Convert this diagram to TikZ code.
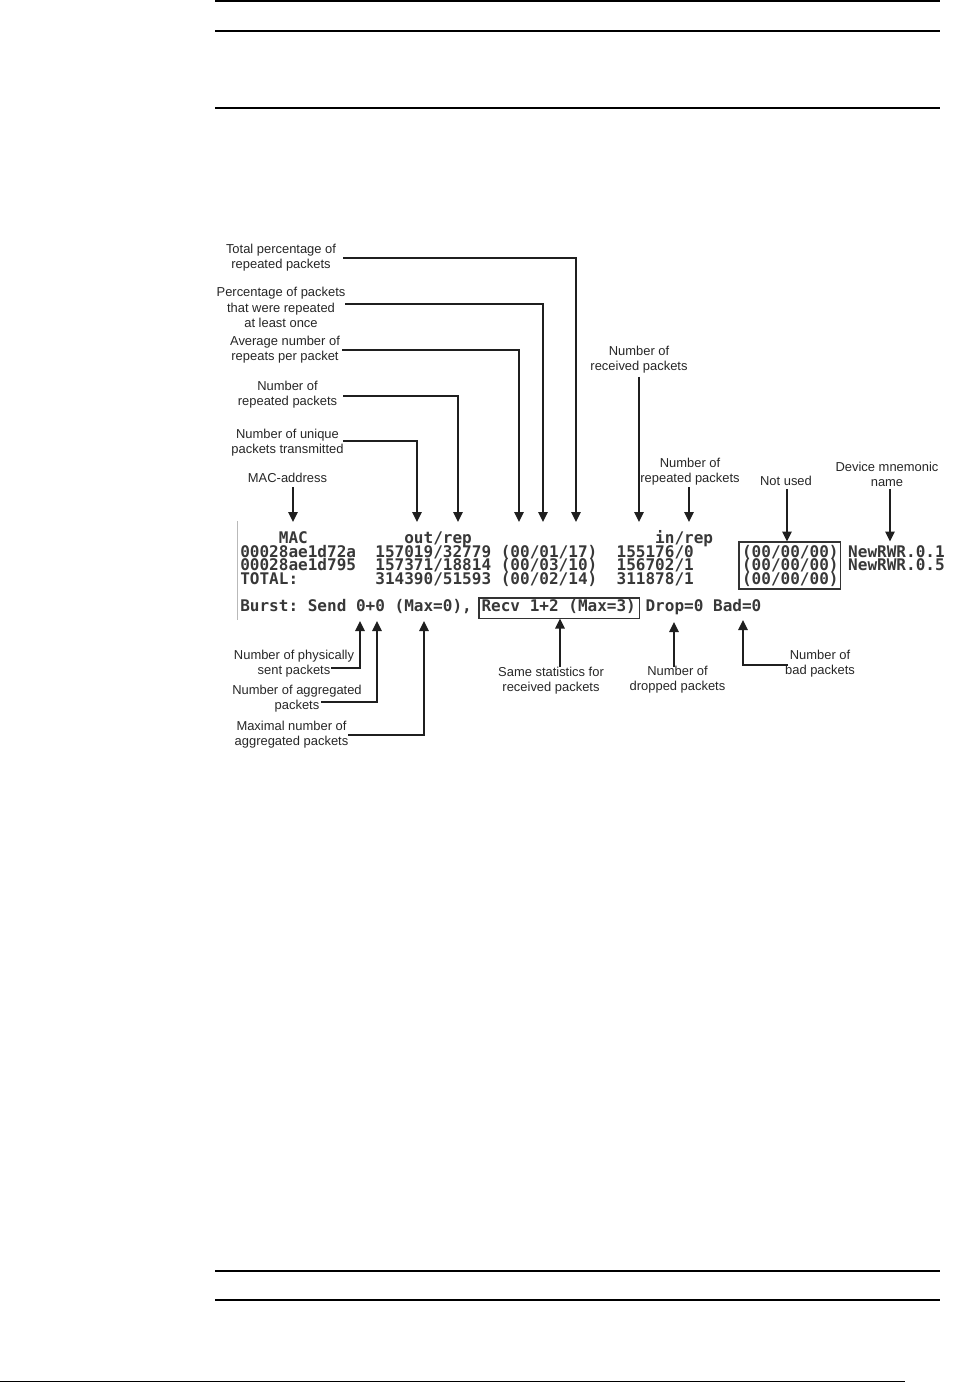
\documentclass[tikz,border=0pt]{standalone}
\usepackage{fontspec}
\setmainfont{Liberation Sans}
\newfontfamily\consolefont{DejaVu Sans Mono}
\usetikzlibrary{arrows.meta}
\tikzset{
  lbl/.style={align=center, inner sep=0pt, text=black!85,
    font=\fontsize{9.7pt}{11.4pt}\selectfont},
  con/.style={inner sep=0pt, anchor=base west, text=black!78,
    text height=8.8pt, text depth=0.9pt,
    font=\consolefont\bfseries\fontsize{12.02pt}{14pt}\selectfont\frenchspacing},
  conn/.style={draw=black!88, line width=1pt,
    -{Triangle[length=7.5pt,width=7.2pt]}},
  frame/.style={draw=black!80, line width=1pt},
  pageline/.style={draw=black, line width=0.8pt},
}
\newcommand\cx[1]{{240+9.65*#1}}
\begin{document}
\begin{tikzpicture}[x=0.75pt,y=-0.75pt]
\useasboundingbox (0,0) rectangle (976,1383);
% page rules
\draw[pageline] (215,1) -- (940,1);
\draw[pageline, line width=2pt] (215,31) -- (940,31);
\draw[pageline, line width=1pt] (215,108) -- (940,108);
\draw[pageline] (215,1271) -- (940,1271);
\draw[pageline, line width=2pt] (215,1300) -- (940,1300);
\draw[pageline] (0,1381.5) -- (905,1381.5);

% console left edge
\draw[gray!55, line width=0.75pt] (237.5,521) -- (237.5,620);

% console text
\node[con] (hmac) at (\cx{4},543) {MAC};
\node[con] (hout) at (\cx{17},543) {out/rep};
\node[con] (hin)  at (\cx{43},543) {in/rep};

\node[con] (r1a) at (\cx{0},557) {00028ae1d72a};
\node[con] (r1b) at (\cx{14},557) {157019/32779};
\node[con] (r1c) at (\cx{27},557) {(00/01/17)};
\node[con] (r1d) at (\cx{39},557) {155176/0};
\node[con] (r1e) at (\cx{52},557) {(00/00/00)};
\node[con] (r1f) at (\cx{63},557) {NewRWR.0.1};

\node[con] (r2a) at (\cx{0},570.5) {00028ae1d795};
\node[con] (r2b) at (\cx{14},570.5) {157371/18814};
\node[con] (r2c) at (\cx{27},570.5) {(00/03/10)};
\node[con] (r2d) at (\cx{39},570.5) {156702/1};
\node[con] (r2e) at (\cx{52},570.5) {(00/00/00)};
\node[con] (r2f) at (\cx{63},570.5) {NewRWR.0.5};

\node[con] (r3a) at (\cx{0},584) {TOTAL:};
\node[con] (r3b) at (\cx{14},584) {314390/51593};
\node[con] (r3c) at (\cx{27},584) {(00/02/14)};
\node[con] (r3d) at (\cx{39},584) {311878/1};
\node[con] (r3e) at (\cx{52},584) {(00/00/00)};

\node[con] (b1) at (\cx{0},611.5) {Burst:};
\node[con] (b1s) at (\cx{7},611.5) {Send 0+0 (Max=0),};
\node[con] (b2) at (\cx{25},611.5) {Recv 1+2 (Max=3)};
\node[con] (b3) at (\cx{42},611.5) {Drop=0};
\node[con] (b4) at (\cx{49},611.5) {Bad=0};

% boxes
\draw[frame] (479,598) rectangle (639.5,618.5);
\draw[frame] (739,542) rectangle (840.5,589);

% labels
\node[lbl] (l1) at (281,257.5) {Total percentage of\\repeated packets};
\node[lbl] (l2) at (281,307.5) {Percentage of packets\\that were repeated\\at least once};
\node[lbl] (l3) at (285,349.5) {Average number of\\repeats per packet};
\node[lbl] (l4) at (287.5,394.5) {Number of\\repeated packets};
\node[lbl] (l5) at (287.5,442.5) {Number of unique\\packets transmitted};
\node[lbl] (l6) at (287.5,478) {MAC-address};
\node[lbl] (l7) at (639,360) {Number of\\received packets};
\node[lbl] (l8) at (690,471.5) {Number of\\repeated packets};
\node[lbl] (l9) at (786,481) {Not used};
\node[lbl] (l10) at (887,474) {Device mnemonic\\name};
\node[lbl] (l11) at (294,664) {Number of physically\\sent packets};
\node[lbl] (l12) at (297,699) {Number of aggregated\\packets};
\node[lbl] (l13) at (291.5,735) {Maximal number of\\aggregated packets};
\node[lbl] (l14) at (551,681) {Same statistics for\\received packets};
\node[lbl] (l15) at (677.5,680) {Number of\\dropped packets};
\node[lbl] (l16) at (820,664) {Number of\\bad packets};

% connector ends
\coordinate (s1) at (343,258);   \coordinate (t1) at (576,522);
\coordinate (s2) at (345,304);   \coordinate (t2) at (543,522);
\coordinate (s3) at (342,350);   \coordinate (t3) at (519,522);
\coordinate (s4) at (343,396);   \coordinate (t4) at (458,522);
\coordinate (s5) at (343,441);   \coordinate (t5) at (417,522);
\coordinate (s6) at (293,487);   \coordinate (t6) at (293,522);
\coordinate (s7) at (639,377);   \coordinate (t7) at (639,522);
\coordinate (s8) at (689,487);   \coordinate (t8) at (689,522);
\coordinate (s9) at (787,489);   \coordinate (t9) at (787,541.5);
\coordinate (s10) at (890,489);  \coordinate (t10) at (890,541.5);
\coordinate (s11) at (331,668);  \coordinate (t11) at (360,621);
\coordinate (s12) at (321,702);  \coordinate (t12) at (377,621);
\coordinate (s13) at (348,735);  \coordinate (t13) at (424,621);
\coordinate (s14) at (560,667);  \coordinate (t14) at (560,618.5);
\coordinate (s15) at (674,667);  \coordinate (t15) at (674,622);
\coordinate (s16) at (788,665);  \coordinate (t16) at (743,620);

\draw[conn] (s1) -| (t1);
\draw[conn] (s2) -| (t2);
\draw[conn] (s3) -| (t3);
\draw[conn] (s4) -| (t4);
\draw[conn] (s5) -| (t5);
\draw[conn] (s6) -- (t6);
\draw[conn] (s7) -- (t7);
\draw[conn] (s8) -- (t8);
\draw[conn] (s9) -- (t9);
\draw[conn] (s10) -- (t10);
\draw[conn] (s11) -| (t11);
\draw[conn] (s12) -| (t12);
\draw[conn] (s13) -| (t13);
\draw[conn] (s14) -- (t14);
\draw[conn] (s15) -- (t15);
\draw[conn] (s16) -| (t16);
\end{tikzpicture}
\end{document}
